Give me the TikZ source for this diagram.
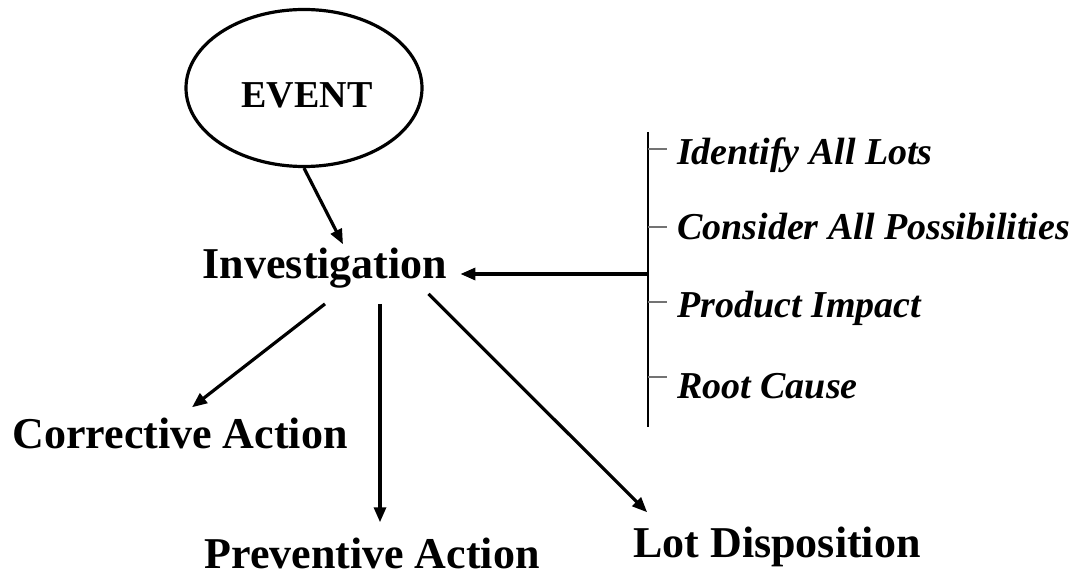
\documentclass[tikz,border=0pt]{standalone}
\usepackage{fontspec}
\setmainfont{Liberation Serif}
\usetikzlibrary{arrows.meta,shapes.geometric}

\begin{document}
\begin{tikzpicture}[x=1pt,y=-1pt,
		arr/.style={line width=3.2pt,-{Triangle[length=15pt,width=12pt]}},
		mainlabel/.style={inner sep=0pt,anchor=base,font=\fontsize{44}{50}\selectfont\bfseries},
		sublabel/.style={inner sep=0pt,anchor=base west,font=\fontsize{38}{44}\selectfont\bfseries\itshape},
		tick/.style={line width=1.6pt,black!55}]
				\useasboundingbox (0,0) rectangle (1078,577);
				
				% ellipszis
				\node[draw,ellipse,line width=3.2pt,minimum width=236pt,minimum height=157pt] (event) at (304,88) {};
				\node[inner sep=0pt,font=\fontsize{38}{44}\selectfont\bfseries] (eventtxt) at (307,95) {EVENT};
				
				% feliratok
				\node[mainlabel] (invest) at (325,278) {Investigation};
				\node[mainlabel] (corr) at (180,448) {Corrective Action};
				\node[mainlabel] (prev) at (372,568) {Preventive Action};
				\node[mainlabel] (lot) at (777,557) {Lot Disposition};
				
				% zárójel
				\coordinate (hub) at (648,274);
				\draw[line width=2.8pt] (648,132) -- (648,427);
				\foreach \yb/\yt/\name/\txt in {165/149/lots/Identify All Lots, 240/227/poss/Consider All Possibilities, 317/302/impact/Product Impact, 398/377/cause/Root Cause}{
					\node[sublabel] (\name) at (677,\yb) {\txt};
					\draw[tick] (648,\yt) -- (667,\yt);
				}
				
				% nyilak
				\draw[arr] (event.south) -- ([xshift=18pt,yshift=3pt]invest.north);
				\draw[arr,shorten >=13pt] (hub) -- (hub -| invest.east);
				\draw[arr] ([yshift=-16pt]invest.south) -- ([xshift=12pt,yshift=10pt]corr.north);
				\draw[arr] ([xshift=55pt,yshift=-16pt]invest.south) -- ([xshift=8pt,yshift=15pt]prev.north);
				\draw[arr] ([xshift=-19pt,yshift=-6pt]invest.south east) -- ([xshift=14pt,yshift=14pt]lot.north west);
				
			\end{tikzpicture}
\end{document}
